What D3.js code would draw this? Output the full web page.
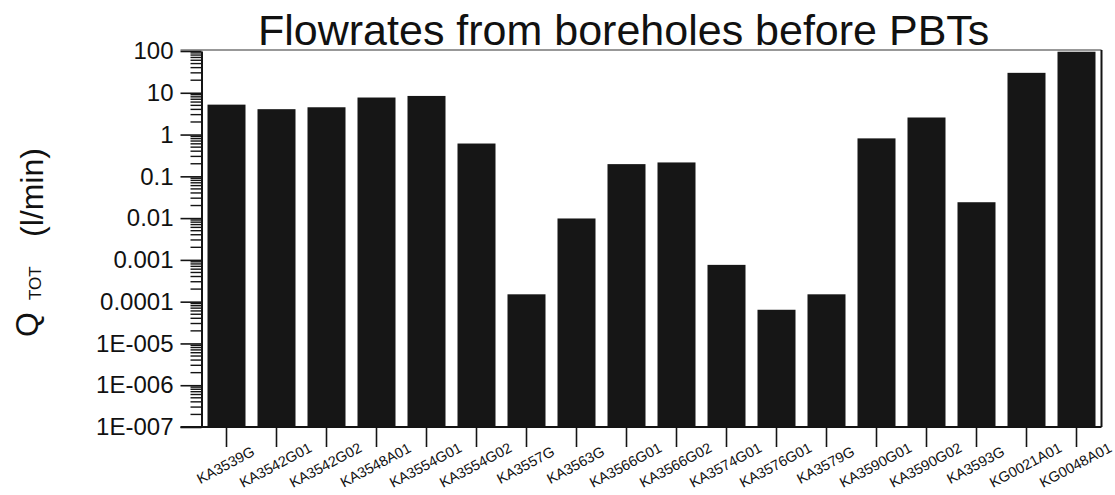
<!DOCTYPE html>
<html>
<head>
<meta charset="utf-8">
<script src="https://cdn.jsdelivr.net/npm/d3@7/dist/d3.min.js"></script>
<style>
  html, body { margin: 0; padding: 0; background: #fff; }
  svg { display: block; font-family: "Liberation Sans", Arial, Helvetica, sans-serif; }
</style>
</head>
<body>
<svg id="chart" width="1115" height="495"></svg>
<script>
// Borehole names along the x axis
const boreholes = [
  "KA3539G", "KA3542G01", "KA3542G02", "KA3548A01", "KA3554G01", "KA3554G02",
  "KA3557G", "KA3563G", "KA3566G01", "KA3566G02", "KA3574G01", "KA3576G01",
  "KA3579G", "KA3590G01", "KA3590G02", "KA3593G", "KG0021A01", "KG0048A01"
];

// Total flowrate per borehole before the pressure build-up tests (l/min)
const flowrates = [
  5.2, 4.05, 4.5, 7.7, 8.4, 0.61,
  1.5e-4, 0.0098, 0.196, 0.215, 7.6e-4, 6.4e-5,
  1.5e-4, 0.81, 2.56, 0.024, 30, 96
];

// Decade ticks on the log axis and their printed labels
const decadeTicks = [100, 10, 1, 0.1, 0.01, 0.001, 0.0001, 1e-5, 1e-6, 1e-7];
const decadeLabels = ["100", "10", "1", "0.1", "0.01", "0.001", "0.0001", "1E-005", "1E-006", "1E-007"];

// Intermediate ticks: 2..9 times each decade
const minorMultipliers = [2, 3, 4, 5, 6, 7, 8, 9];

const svg = d3.select("#chart");
const ink = "#141414";

const x = d3.scaleBand()
  .domain(boreholes)
  .range([201.5, 1101.5])
  .paddingInner(0.24)
  .paddingOuter(0.12);

const y = d3.scaleLog()
  .domain([1e-7, 100])
  .range([427, 51]);

const minorTicks = decadeTicks.slice(1).flatMap(base => minorMultipliers.map(m => m * base));

// Bars rise from the bottom of the axis
svg.append("g")
  .selectAll("rect")
  .data(flowrates)
  .join("rect")
  .attr("x", (d, i) => x(boreholes[i]))
  .attr("width", x.bandwidth())
  .attr("y", d => y(d))
  .attr("height", d => y(1e-7) - y(d))
  .attr("fill", "#161616");

// Frame: top and right edges
const x0 = x.range()[0];
const left = x0 - 21, right = x.range()[1];
svg.append("line")
  .attr("x1", left).attr("x2", right)
  .attr("y1", y(100) - 1).attr("y2", y(100) - 1)
  .attr("stroke", "#333").attr("stroke-width", 1.2);
svg.append("line")
  .attr("x1", right).attr("x2", right)
  .attr("y1", y(100) - 1).attr("y2", y(1e-7))
  .attr("stroke", ink).attr("stroke-width", 2);

// Left log axis: minor ticks
svg.append("g")
  .attr("class", "minor-ticks")
  .selectAll("path")
  .data(minorTicks)
  .join("path")
  .attr("d", v => `M${x0 - 11},${y(v)}H${x0}`)
  .attr("stroke", ink)
  .attr("stroke-width", 1.4);

// Left log axis: decades with labels
svg.append("g")
  .attr("transform", `translate(${x0},0)`)
  .call(d3.axisLeft(y).tickValues(decadeTicks).tickSize(21).tickSizeOuter(0).tickPadding(7)
    .tickFormat((d, i) => decadeLabels[i]))
  .call(g => g.select(".domain").attr("stroke", ink).attr("stroke-width", 2))
  .call(g => g.selectAll(".tick line").attr("stroke", ink).attr("stroke-width", 1.6))
  .call(g => g.selectAll(".tick text")
    .attr("fill", "#111")
    .style("font-size", "24px")
    .attr("font-family", "'Liberation Sans', Arial, sans-serif"));

// Bottom axis with slanted borehole names
svg.append("g")
  .attr("transform", `translate(0,${y(1e-7)})`)
  .call(d3.axisBottom(x).tickSize(20).tickSizeOuter(0))
  .call(g => g.select(".domain").remove())
  .call(g => g.selectAll(".tick line").attr("stroke", ink).attr("stroke-width", 1.6))
  .call(g => g.selectAll(".tick text")
    .attr("fill", "#111")
    .attr("y", 0)
    .attr("dy", "0.35em")
    .attr("text-anchor", "middle")
    .attr("transform", "translate(-1,38) rotate(-28)")
    .style("font-size", "14.5px")
    .attr("font-family", "'Liberation Sans', Arial, sans-serif"));

// Bottom edge line across the full width
svg.append("line")
  .attr("x1", left).attr("x2", right)
  .attr("y1", y(1e-7)).attr("y2", y(1e-7))
  .attr("stroke", ink).attr("stroke-width", 2);

// Title
svg.append("text")
  .attr("x", 258).attr("y", 45)
  .attr("fill", "#111")
  .style("font-size", "43px")
  .text("Flowrates from boreholes before PBTs");

// Y axis title: Q with subscript TOT, then the unit
const ytitle = svg.append("g").attr("fill", "#111");
ytitle.append("text")
  .attr("transform", "translate(38,337) rotate(-90)")
  .style("font-size", "32px")
  .text("Q");
ytitle.append("text")
  .attr("transform", "translate(41,300) rotate(-90)")
  .style("font-size", "17px")
  .text("TOT");
ytitle.append("text")
  .attr("transform", "translate(43,237) rotate(-90)")
  .style("font-size", "32px")
  .text("(l/min)");
</script>
</body>
</html>
